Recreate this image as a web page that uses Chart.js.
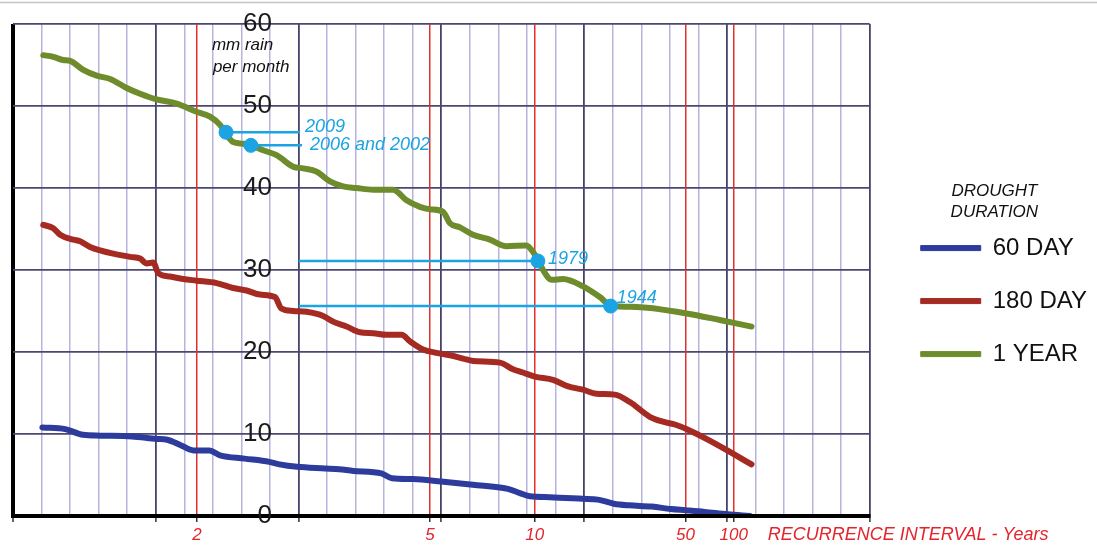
<!DOCTYPE html>
<html><head><meta charset="utf-8">
<script src="https://cdn.jsdelivr.net/npm/chart.js@4.4.1/dist/chart.umd.min.js"></script>
<style>html,body{margin:0;padding:0;background:#fff;overflow:hidden}canvas{display:block}</style>
</head><body>
<canvas id="c" width="1097" height="555"></canvas>
<script>
// x values are positions on the recurrence-probability paper, in grid divisions (0..30)
const intervalLabels = ['2', '5', '10', '50', '100'];
const intervalPos = [6.44, 14.6, 18.27, 23.55, 25.24];
const mmTicks = [0, 10, 20, 30, 40, 50, 60];
const seriesNames = ['60 DAY', '180 DAY', '1 YEAR'];

const day60X = [1.03,1.83,2.45,3.06,4.17,5.03,5.40,5.89,6.32,6.87,7.25,8.11,8.97,9.33,9.95,10.93,11.42,11.92,12.90,13.27,14.01,14.99,16.10,17.33,17.75,18.10,18.80,19.95,20.48,21.04,21.57,22.37,23.03,23.56,24.22,25.03,25.80];
const day60Mm = [10.8,10.6,9.9,9.8,9.7,9.4,9.3,8.6,8.0,8.0,7.4,7.0,6.6,6.3,6.0,5.8,5.7,5.5,5.2,4.6,4.5,4.2,3.8,3.3,2.8,2.4,2.3,2.1,2.0,1.5,1.3,1.15,0.85,0.7,0.5,0.2,0.0];

const day180X = [1.06,1.41,1.65,2.11,2.35,2.70,3.05,3.51,4.10,4.45,4.68,4.91,5.09,5.50,5.96,6.43,7.13,7.71,8.18,8.65,9.17,9.40,9.81,10.28,10.86,11.21,11.68,12.15,12.61,13.08,13.61,13.90,14.36,14.83,15.30,15.76,16.11,17.05,17.51,17.86,18.27,18.91,19.44,19.96,20.43,21.07,21.60,22.30,22.76,23.23,23.58,24.28,25.21,25.86];
const day180Mm = [35.5,35.1,34.3,33.7,33.5,32.8,32.4,32.0,31.6,31.4,30.8,30.9,29.6,29.2,28.9,28.7,28.4,27.8,27.5,27.0,26.7,25.3,25.0,24.9,24.4,23.7,23.1,22.4,22.3,22.1,22.1,21.3,20.3,19.9,19.6,19.2,18.9,18.7,17.9,17.5,17.0,16.6,15.8,15.4,14.9,14.8,13.9,12.1,11.5,11.1,10.6,9.4,7.6,6.3];

const oneYearX = [1.06,1.41,1.76,2.0,2.46,2.93,3.40,3.98,4.45,5.03,5.73,6.43,6.90,7.25,7.48,7.71,8.06,8.35,8.76,9.23,9.81,10.16,10.63,11.10,11.56,12.03,12.61,13.31,13.78,14.25,14.60,15.06,15.30,15.65,16.11,16.70,17.28,17.98,18.21,18.39,18.56,18.86,19.26,19.96,20.55,20.96,21.83,23.58,24.75,25.86];
const oneYearMm = [56.2,56.0,55.6,55.5,54.4,53.7,53.3,52.2,51.5,50.8,50.3,49.3,48.7,47.7,46.5,45.6,45.4,45.2,44.6,44.0,42.6,42.4,42.0,40.8,40.2,40.0,39.8,39.8,38.5,37.7,37.4,37.1,35.7,35.2,34.3,33.7,32.9,33.0,32.2,31.2,30.0,28.8,28.9,28.0,26.7,25.6,25.5,24.7,23.9,23.1];

const eventYears = ['2009', '2006 and 2002', '1979', '1944'];
const eventX = [7.46, 8.33, 18.38, 20.93];
const eventMm = [46.8, 45.2, 31.1, 25.6];
const eventLineX = [10.05, 10.12, 10.0, 10.0];

const FONT = '"Liberation Sans", Arial, sans-serif';
Chart.defaults.font.family = FONT;
const seriesColors = ['#2d3c9c', '#a52b22', '#6e8c2b'];
const eventColor = '#1ba3e3';

const pts = (xs, ys) => xs.map((v, i) => ({x: v, y: ys[i]}));
const curves = [[day60X, day60Mm], [day180X, day180Mm], [oneYearX, oneYearMm]].map((s, i) => ({
  label: seriesNames[i], data: pts(s[0], s[1]), borderColor: seriesColors[i], backgroundColor: seriesColors[i],
  borderWidth: 6, pointRadius: 0, cubicInterpolationMode: 'monotone', borderCapStyle: 'round', borderJoinStyle: 'round',
  xAxisID: 'x', yAxisID: 'y', order: 3
}));
const refLines = eventYears.map((t, i) => ({
  label: 'ref ' + t, data: [{x: eventX[i], y: eventMm[i]}, {x: eventLineX[i], y: eventMm[i]}],
  borderColor: eventColor, borderWidth: 2.5, pointRadius: 0, xAxisID: 'x', yAxisID: 'y', order: 2
}));
const markers = {
  label: 'events', type: 'scatter', data: pts(eventX, eventMm), backgroundColor: eventColor, borderColor: eventColor,
  pointRadius: 7, pointHoverRadius: 7, xAxisID: 'x', yAxisID: 'y', order: 1
};

const textPlugin = {
  id: 'texts',
  beforeDraw(chart) {
    const ctx = chart.ctx;
    ctx.save();
    ctx.strokeStyle = '#c4c4c4'; ctx.lineWidth = 1.5;
    ctx.beginPath(); ctx.moveTo(0, 2.5); ctx.lineTo(chart.width, 2.5); ctx.stroke();
    ctx.restore();
  },
  afterDraw(chart) {
    const {ctx, chartArea} = chart; const x = chart.scales.x, y = chart.scales.y;
    ctx.save();
    ctx.textBaseline = 'middle'; ctx.textAlign = 'left';
    ctx.fillStyle = '#111'; ctx.font = 'italic 17px ' + FONT;
    ctx.fillText('mm rain', x.getPixelForValue(6.965), y.getPixelForValue(57.45));
    ctx.fillText('per month', x.getPixelForValue(7.0), y.getPixelForValue(54.75));
    ctx.fillStyle = eventColor; ctx.font = 'italic 18px ' + FONT;
    const offs = [[5, -5], [8, 0], [10, -2], [6, -8]];
    eventYears.forEach((t, i) => {
      const ax = x.getPixelForValue(Math.max(eventX[i], eventLineX[i]));
      const ay = y.getPixelForValue(eventMm[i]);
      ctx.fillText(t, ax + offs[i][0], ay + offs[i][1]);
    });
    ctx.fillStyle = '#e3242b'; ctx.font = 'italic 18px ' + FONT;
    ctx.fillText('RECURRENCE INTERVAL - Years', x.getPixelForValue(26.43), chartArea.bottom + 19);
    ctx.restore();
  }
};

new Chart(document.getElementById('c'), {
  type: 'line',
  data: {datasets: [...curves, ...refLines, markers]},
  plugins: [textPlugin],
  options: {
    responsive: false, animation: false, devicePixelRatio: 1,
    layout: {padding: {left: 13, top: 24, right: 0, bottom: 0}},
    plugins: {
      tooltip: {enabled: false},
      legend: {
        position: 'right', align: 'start', maxWidth: 400,
        title: {display: true, text: ['DROUGHT', 'DURATION'], color: '#111', position: 'center',
          font: {size: 17, style: 'italic', lineHeight: 1.24}, padding: {top: 159, bottom: 3}},
        labels: {
          color: '#111', font: {size: 24}, boxWidth: 60, boxHeight: 5, padding: 29,
          generateLabels: (chart) => seriesNames.map((n, i) => ({
            text: n, fillStyle: seriesColors[i], strokeStyle: seriesColors[i], lineWidth: 1, datasetIndex: i, hidden: false
          }))
        }
      }
    },
    scales: {
      xg: {
        type: 'linear', position: 'bottom', min: 0, max: 30, weight: 0,
        ticks: {stepSize: 1, display: false},
        grid: {z: -2,
          color: (c) => c.tick.value === 0 ? '#000' : (c.tick.value % 5 === 0 ? '#45436a' : '#b7b3de'),
          lineWidth: (c) => c.tick.value === 0 ? 4 : (c.tick.value % 5 === 0 ? 1.8 : 1.5),
          tickColor: (c) => c.tick.value % 5 === 0 ? '#333' : 'rgba(0,0,0,0)', tickLength: 6, tickWidth: 1.5},
        border: {display: false},
        afterFit: (s) => { s.height = 0; }
      },
      x: {
        type: 'linear', position: 'bottom', min: 0, max: 30, weight: 1,
        afterBuildTicks: (s) => { s.ticks = intervalPos.map(v => ({value: v})); },
        ticks: {autoSkip: false, maxRotation: 0, color: '#e3242b', padding: 3,
          font: {size: 17, style: 'italic'}, callback: (v, i) => intervalLabels[i]},
        grid: {z: -1, color: '#e2302d', lineWidth: 1.5, tickColor: '#333', tickLength: 6, tickWidth: 1.5},
        border: {display: true, color: '#000', width: 4, z: 1},
        afterFit: (s) => { s.height = 39; }
      },
      y: {
        type: 'linear', position: {x: 9.065}, min: 0, max: 60,
        afterBuildTicks: (s) => { s.ticks = mmTicks.map(v => ({value: v})); },
        ticks: {z: 2, color: '#1a1a1a', font: {size: 26}, padding: 0},
        grid: {z: -2, color: '#4b4870', lineWidth: 1.8, drawTicks: false},
        border: {display: false}
      },
      yr: {
        type: 'linear', position: 'right', display: true,
        ticks: {display: false}, grid: {display: false, drawTicks: false}, border: {display: false},
        afterFit: (s) => { s.width = 22; }
      }
    }
  }
});
</script>
</body></html>
